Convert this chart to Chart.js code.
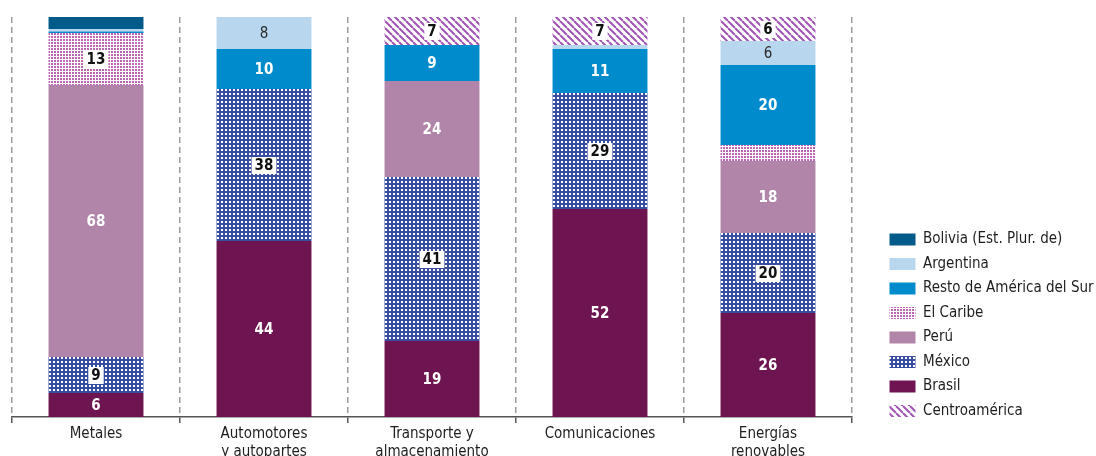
<!DOCTYPE html>
<html lang="es">
<head>
<meta charset="utf-8">
<title>Distribución por sector</title>
<script src="https://cdn.jsdelivr.net/npm/chart.js@4.4.1/dist/chart.umd.min.js"></script>
<style>
  html, body { margin: 0; padding: 0; background: #fff; }
  #wrap { width: 1096px; height: 456px; }
</style>
</head>
<body>
<div id="wrap"><canvas id="sectorChart" width="1096" height="456"></canvas></div>
<script>
// Sectores (eje X) y participación de cada origen, en porcentaje
var sectores = [['Metales'], ['Automotores', 'y autopartes'], ['Transporte y', 'almacenamiento'], ['Comunicaciones'], ['Energías', 'renovables']];

var brasil       = [6, 44, 19, 52, 26];
var mexico       = [9, 38, 41, 29, 20];
var peru         = [68, 0, 24, 0, 18];
var elCaribe     = [13, 0, 0, 0, 4];
var restoSur     = [0.4, 10, 9, 11, 20];
var argentina    = [0.6, 8, 0, 1, 6];
var bolivia      = [3, 0, 0, 0, 0];
var centroamerica = [0, 0, 7, 7, 6];

var FONT = '"Liberation Sans Narrow", "DejaVu Sans Condensed", "Roboto", sans-serif';

// Tramas para las series rayadas o punteadas
function makePattern(size, draw) {
    var tile = document.createElement('canvas');
    tile.width = size;
    tile.height = size;
    var c = tile.getContext('2d');
    draw(c, size);
    return document.createElement('canvas').getContext('2d').createPattern(tile, 'repeat');
}

var mexicoFill = makePattern(4, function (c, s) {
    c.fillStyle = '#3b4d9f';
    c.fillRect(0, 0, s, s);
    c.fillStyle = '#ffffff';
    c.fillRect(1, 1, 2, 2);
});

var caribeFill = makePattern(3, function (c, s) {
    c.fillStyle = '#ffffff';
    c.fillRect(0, 0, s, s);
    c.fillStyle = '#bb66b3';
    c.fillRect(0, 0, 2, 2);
});

var centroFill = makePattern(7, function (c, s) {
    c.fillStyle = '#ffffff';
    c.fillRect(0, 0, s, s);
    c.strokeStyle = '#a055b4';
    c.lineWidth = 2;
    c.beginPath();
    for (var k = -1; k <= 1; k++) {
        c.moveTo(k * s, 0);
        c.lineTo(k * s + s, s);
    }
    c.stroke();
});

// Estilo de la etiqueta de valor por serie
var labelStyle = ['white', 'boxed', 'white', 'boxed', 'white', 'dark', 'white', 'boxed'];

var valueLabels = {
    id: 'valueLabels',
    afterDatasetsDraw: function (chart) {
        var ctx = chart.ctx;
        ctx.save();
        ctx.textAlign = 'center';
        ctx.textBaseline = 'middle';
        chart.data.datasets.forEach(function (ds, i) {
            var meta = chart.getDatasetMeta(i);
            meta.data.forEach(function (bar, j) {
                var v = ds.data[j];
                if (!v || v < 5) return;
                var y = (bar.y + bar.base) / 2;
                var txt = String(v);
                var style = labelStyle[i];
                ctx.font = (style === 'dark' ? '' : 'bold ') + '15px ' + FONT;
                if (style === 'boxed') {
                    var w = ctx.measureText(txt).width + 6;
                    ctx.fillStyle = '#ffffff';
                    ctx.fillRect(bar.x - w / 2, y - 8, w, 17);
                    ctx.fillStyle = '#111111';
                } else if (style === 'dark') {
                    ctx.fillStyle = '#2a2a2a';
                } else {
                    ctx.fillStyle = '#ffffff';
                }
                ctx.fillText(txt, bar.x, y + 1);
            });
        });
        ctx.restore();
    }
};

// Leyenda con ancho fijo y desplazada hacia la derecha del área del gráfico
var legendPlace = {
    id: 'legendPlace',
    beforeLayout: function (chart) {
        var legend = chart.legend;
        if (legend && !legend._fixedFit) {
            var fit = legend.fit;
            legend.fit = function () {
                fit.call(this);
                this.width = 244;
            };
            legend._fixedFit = true;
        }
    },
    afterLayout: function (chart) {
        var l = chart.legend;
        l.left += 28; l.right += 28;
        l.top += 11; l.bottom += 11;
    }
};

var legendOrder = [6, 5, 4, 3, 2, 1, 0, 7];

var ctx = document.getElementById('sectorChart').getContext('2d');
var sectorChart = new Chart(ctx, {
    type: 'bar',
    data: {
        labels: sectores,
        datasets: [
            { label: 'Brasil', data: brasil, backgroundColor: '#6e1450' },
            { label: 'México', data: mexico, backgroundColor: mexicoFill },
            { label: 'Perú', data: peru, backgroundColor: '#b085a9' },
            { label: 'El Caribe', data: elCaribe, backgroundColor: caribeFill },
            { label: 'Resto de América del Sur', data: restoSur, backgroundColor: '#008ccc' },
            { label: 'Argentina', data: argentina, backgroundColor: '#b8d7ee' },
            { label: 'Bolivia (Est. Plur. de)', data: bolivia, backgroundColor: '#005b8a' },
            { label: 'Centroamérica', data: centroamerica, backgroundColor: centroFill }
        ]
    },
    options: {
        responsive: false,
        animation: false,
        layout: { padding: { top: 17, left: 12, right: 0, bottom: 0 } },
        datasets: {
            bar: { categoryPercentage: 1, barPercentage: 0.565, borderWidth: 0 }
        },
        scales: {
            x: {
                stacked: true,
                offset: true,
                grid: {
                    offset: true,
                    color: '#9c9c9c',
                    lineWidth: 1.5,
                    tickLength: 6,
                    tickColor: '#555555'
                },
                border: { display: true, color: '#555555', width: 1.5, dash: [6, 4] },
                ticks: {
                    color: '#1e1e1e',
                    padding: 2,
                    font: { family: FONT, size: 15 }
                },
                afterFit: function (scale) { scale.height = 39; }
            },
            y: {
                stacked: true,
                display: false,
                min: 0,
                max: 100
            }
        },
        plugins: {
            legend: {
                position: 'right',
                align: 'end',
                fullSize: false,
                labels: {
                    boxWidth: 26,
                    boxHeight: 12,
                    padding: 9.5,
                    color: '#1e1e1e',
                    font: { family: FONT, size: 15 },
                    sort: function (a, b) {
                        return legendOrder.indexOf(a.datasetIndex) - legendOrder.indexOf(b.datasetIndex);
                    }
                }
            },
            tooltip: { enabled: false }
        }
    },
    plugins: [valueLabels, legendPlace]
});
</script>
</body>
</html>
